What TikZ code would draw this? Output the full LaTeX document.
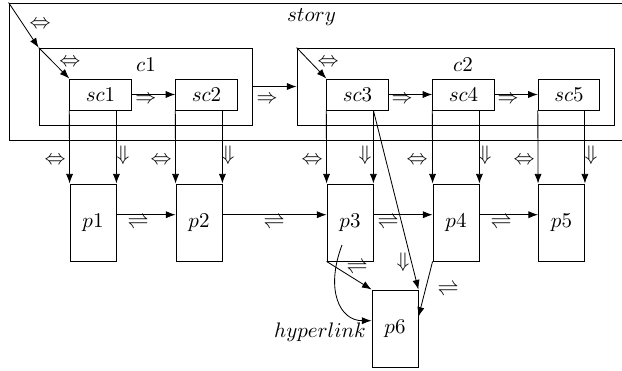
\documentclass[tikz,border=0pt]{standalone}
\usetikzlibrary{arrows.meta,calc}
\begin{document}
\begin{tikzpicture}[x=0.47619pt,y=-0.47619pt,
  box/.style={draw,inner sep=0pt},
  scbox/.style={box,minimum width=29.3pt,minimum height=14.8pt},
  pbox/.style={box,minimum width=21.9pt,minimum height=36.7pt},
  lab/.style={inner sep=0pt},
  link/.style={-{Latex[length=4.6pt,width=3.4pt]}},
]
\useasboundingbox (0,0) rectangle (622,371);
\clip (0,0) rectangle (622,371);

% containers
\node[box,minimum width=300.5pt,minimum height=65.24pt] (story) at (324.5,71.5) {};
\node[lab] (storyname) at (311.5,17) {$story$};
\node[box,minimum width=101.43pt,minimum height=36.67pt] (c1) at (145.5,86.5) {};
\node[lab] (c1name) at (146,65) {$c1$};
\node[box,minimum width=150.95pt,minimum height=36.67pt] (c2) at (455.5,86.5) {};
\node[lab] (c2name) at (463,65) {$c2$};

% scenes
\node[scbox] (sc1) at (100.5,94.5) {$sc1$};
\node[scbox] (sc2) at (206.5,94.5) {$sc2$};
\node[scbox] (sc3) at (357.5,94.5) {$sc3$};
\node[scbox] (sc4) at (463.5,94.5) {$sc4$};
\node[scbox] (sc5) at (569,94.5) {$sc5$};

% pages
\node[pbox] (p1) at (93,222.5) {$p1$};
\node[pbox] (p2) at (199,222.5) {$p2$};
\node[pbox] (p3) at (350,222.5) {$p3$};
\node[pbox] (p4) at (456,222.5) {$p4$};
\node[pbox] (p5) at (561.5,222.5) {$p5$};
\node[pbox] (p6) at (395,328.5) {$p6$};

% containment
\draw[link] (story.north west) -- (c1.north west);
\draw[link] (c1.north west) -- (sc1.north west);
\draw[link] (c2.north west) -- (sc3.north west);

% scene sequence
\draw[link] (sc1) -- (sc2);
\draw[link] (c1) -- (c2);
\draw[link] (sc3) -- (sc4);
\draw[link] (sc4) -- (sc5);

% scenes to pages
\foreach \i in {1,...,5}{
  \draw[link] (sc\i.south west) -- (p\i.north west);
  \draw[link] (p\i.north east |- sc\i.south) -- (p\i.north east);
}
\draw[link] (p3.north east |- sc3.south) -- (p6.north east);

% page sequence
\foreach \a/\b in {1/2,2/3,3/4,4/5}{
  \draw[link] ($(p\a.north east)!0.4!(p\a.south east)$) -- ($(p\b.north west)!0.4!(p\b.south west)$);
}
\draw[link] (p3.south west) -- (p6.north west);
\draw[link] (p4.south west) -- ($(p6.north east)!0.35!(p6.south east)$);

% hyperlink
\coordinate (hstart) at ($(p3.center)+(-8,22.5)$);
\coordinate (hend) at ($(p6.north west)!0.4!(p6.south west)$);
\draw[link] (hstart) .. controls ($(hstart)+(-17,45)$) and ($(hend)+(-32,0)$) .. (hend);
\node[lab] (hlname) at (320,332) {$hyperlink$};

% relation labels
\node[lab] (l1) at (40,25) {$\Leftrightarrow$};
\node[lab] (l2) at (70,63) {$\Leftrightarrow$};
\node[lab] (l3) at (328,63) {$\Leftrightarrow$};
\node[lab] (r1) at (146,100) {$\Rightarrow$};
\node[lab] (r2) at (267,100) {$\Rightarrow$};
\node[lab] (r3) at (402,100) {$\Rightarrow$};
\node[lab] (r4) at (508,100) {$\Rightarrow$};
\foreach \x [count=\k] in {55,161,312,417,524}{
  \node[lab] (e\k) at (\x,161) {$\Leftrightarrow$};
}
\foreach \x [count=\k] in {123,228,365,485,591}{
  \node[lab] (d\k) at (\x,155) {$\Downarrow$};
}
\foreach \x [count=\k] in {138,274,388,501}{
  \node[lab] (h\k) at (\x,223) {$\rightleftharpoons$};
}
\node[lab] (h5) at (357,268) {$\rightleftharpoons$};
\node[lab] (d6) at (403,262) {$\Downarrow$};
\node[lab] (h6) at (448,290) {$\rightleftharpoons$};
\end{tikzpicture}
\end{document}
